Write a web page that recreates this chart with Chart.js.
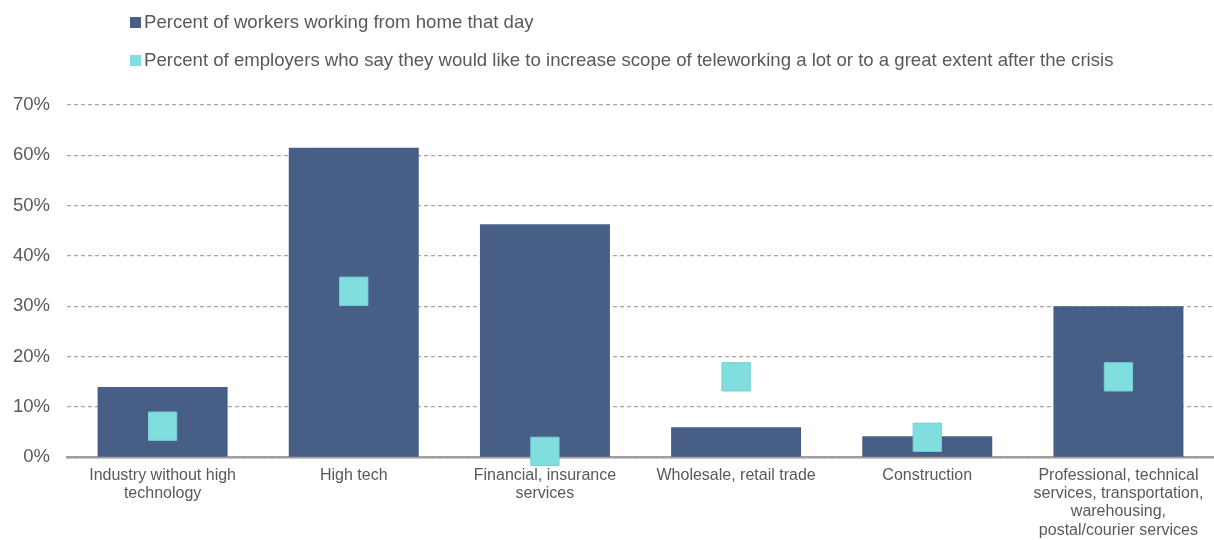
<!DOCTYPE html>
<html>
<head>
  <title>Working from home by industry</title>
  <script src="https://cdn.jsdelivr.net/npm/chart.js"></script>
  <style>
    html, body { margin: 0; overflow: hidden; font-family: "Liberation Sans", Arial, sans-serif; }
    #wrap { position: relative; width: 1214px; height: 540px; }
    #legend { position: absolute; left: 130px; top: 0; }
    .item { position: absolute; white-space: nowrap; font-size: 18.6px; color: #595959; line-height: 22px; }
    .item span.box { display: inline-block; width: 11px; height: 11px; margin-right: 3px; vertical-align: 0px; }
  </style>
</head>
<body>
  <div id="wrap">
    <canvas id="chart"></canvas>
    <div id="legend"></div>
  </div>
  <script>
    const categories = [
      ["Industry without high", "technology"],
      ["High tech"],
      ["Financial, insurance", "services"],
      ["Wholesale, retail trade"],
      ["Construction"],
      ["Professional, technical", "services, transportation,", "warehousing,", "postal/courier services"]
    ];
    const seriesNames = [
      "Percent of workers working from home that day",
      "Percent of employers who say they would like to increase scope of teleworking a lot or to a great extent after the crisis"
    ];
    const workersFromHome = [14, 61.5, 46.3, 6, 4.2, 30];
    const employersIncrease = [6.2, 33, 1.2, 16, 4, 16];
    const yTicks = [0, 10, 20, 30, 40, 50, 60, 70];

    const barColor = "#475E87";
    const markColor = "#80DEDE";

    // html legend, one row per series
    const legend = document.getElementById("legend");
    [barColor, markColor].forEach((c, i) => {
      const d = document.createElement("div");
      d.className = "item";
      d.style.top = (11 + i * 38) + "px";
      d.innerHTML = '<span class="box" style="background:' + c + '"></span>' + seriesNames[i];
      legend.appendChild(d);
    });

    new Chart(document.getElementById("chart"), {
      type: "bar",
      data: {
        labels: categories,
        datasets: [
          {
            type: "line",
            label: seriesNames[1],
            data: employersIncrease,
            showLine: false,
            pointStyle: "rect",
            pointRadius: 20,
            pointHoverRadius: 20,
            backgroundColor: markColor,
            borderColor: "#78CFD2",
            borderWidth: 1,
            clip: false,
            order: 1
          },
          {
            label: seriesNames[0],
            data: workersFromHome,
            backgroundColor: barColor,
            categoryPercentage: 1,
            barPercentage: 0.68,
            order: 2
          }
        ]
      },
      options: {
        responsive: true,
        maintainAspectRatio: false,
        animation: false,
        layout: { autoPadding: false, padding: { left: 13, right: 0, top: 105, bottom: 0 } },
        plugins: {
          legend: { display: false },
          tooltip: { enabled: false }
        },
        scales: {
          x: {
            grid: { display: false, tickLength: 8 },
            border: { display: true, color: "#A0A0A0", width: 2.5 },
            ticks: {
              color: "#595959",
              font: { family: "Liberation Sans", size: 16, lineHeight: 1.15 },
              padding: 0.5,
              maxRotation: 0,
              autoSkip: false
            },
            // long labels should not push the plot area inwards
            afterFit: s => { s.paddingLeft = 0; s.paddingRight = 0; }
          },
          y: {
            min: 0,
            max: 70,
            afterBuildTicks: axis => { axis.ticks = yTicks.map(v => ({ value: v })); },
            grid: { color: "#A6A6A6", lineWidth: 1.2, drawTicks: false },
            border: { display: false, dash: [4, 3] },
            ticks: {
              color: "#595959",
              font: { family: "Liberation Sans", size: 18.5 },
              padding: 17,
              callback: v => v + "%"
            },
            // padding is counted on both sides of the labels, keep only one
            afterFit: s => { s.width -= s.options.ticks.padding; }
          }
        }
      }
    });
  </script>
</body>
</html>
